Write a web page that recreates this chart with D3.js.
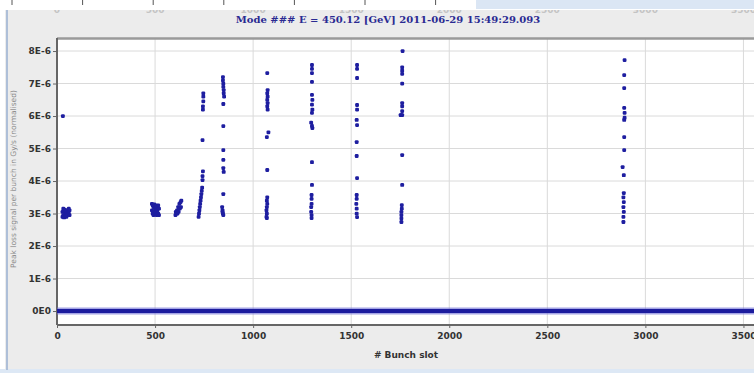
<!DOCTYPE html>
<html>
<head>
<meta charset="utf-8">
<script src="https://cdn.jsdelivr.net/npm/d3@7"></script>
<style>
  body { margin: 0; background: #fff; }
  svg { display: block; }
</style>
</head>
<body>
<div id="chart"></div>
<script>
// bunch slot / signal (in units of 1E-6) for each filled train
var train1 = [[30,6.0],[28,3.05],[28,2.9],[32,3.15],[32,2.95],[36,3.1],[36,2.88],[40,3.0],[40,3.12],[44,2.92],[44,3.08],[48,3.02],[48,2.9],[52,3.1],[52,2.95],[56,3.05],[60,3.0],[60,3.15],[64,2.95],[64,3.1]];
var train2 = [[484,3.3],[484,3.1],[488,3.25],[488,3.0],[492,3.2],[492,2.95],[496,3.28],[496,3.05],[500,3.15],[500,2.98],[504,3.25],[504,3.05],[508,3.2],[508,2.95],[512,3.1],[516,3.25],[516,3.0],[520,3.15],[520,2.95]];
var train3 = [[604,2.95],[606,3.05],[608,3.0],[612,3.1],[614,3.0],[618,3.2],[620,3.05],[624,3.3],[626,3.15],[630,3.35],[632,3.2],[634,3.4]];
var train4 = [[722,2.9],[724,3.0],[726,3.1],[728,3.2],[730,3.3],[732,3.4],[734,3.5],[736,3.6],[738,3.7],[740,3.8],[742,4.03],[742,4.15],[744,4.3],[742,5.26],[744,6.2],[744,6.3],[746,6.45],[746,6.6],[746,6.7]];
var train5 = [[846,7.2],[846,7.1],[848,7.0],[848,6.9],[850,6.8],[850,6.7],[852,6.6],[848,6.37],[848,5.69],[848,4.95],[848,4.65],[848,4.4],[850,4.28],[848,3.6],[842,3.2],[844,3.1],[846,3.0],[848,2.95],[844,3.05]];
var train6 = [[1072,7.32],[1074,6.8],[1072,6.7],[1074,6.6],[1072,6.5],[1074,6.4],[1072,6.3],[1074,6.2],[1070,5.35],[1078,5.5],[1072,4.34],[1072,3.5],[1070,3.4],[1072,3.3],[1070,3.2],[1068,3.1],[1070,3.0],[1068,2.9],[1070,2.86]];
var train7 = [[1300,7.57],[1300,7.45],[1300,7.32],[1300,7.05],[1300,6.65],[1302,6.5],[1300,6.35],[1302,6.2],[1300,6.1],[1296,5.8],[1300,5.7],[1302,5.63],[1300,4.58],[1300,3.88],[1298,3.57],[1298,3.45],[1298,3.3],[1296,3.2],[1296,3.05],[1298,2.95],[1298,2.86]];
var train8 = [[1530,7.57],[1530,7.45],[1530,7.17],[1530,6.34],[1530,6.2],[1528,5.88],[1530,5.72],[1528,5.2],[1528,4.77],[1530,4.09],[1528,3.57],[1528,3.45],[1526,3.3],[1528,3.15],[1528,3.0],[1530,2.89]];
var train9 = [[1762,8.0],[1760,7.5],[1760,7.4],[1760,7.3],[1760,7.0],[1760,6.4],[1760,6.3],[1760,6.15],[1752,6.03],[1756,6.03],[1760,6.03],[1760,4.8],[1760,3.88],[1758,3.26],[1758,3.15],[1756,3.05],[1756,2.95],[1756,2.85],[1756,2.74]];
var train10 = [[2894,7.72],[2892,7.26],[2892,6.86],[2892,6.25],[2894,6.1],[2894,5.95],[2892,5.88],[2892,5.35],[2892,4.95],[2884,4.43],[2890,4.18],[2890,3.63],[2888,3.5],[2890,3.35],[2888,3.2],[2890,3.05],[2888,2.9],[2888,2.74]];
var trains = [train1, train2, train3, train4, train5, train6, train7, train8, train9, train10];

// every empty slot sits on zero, from first to last bunch slot
var zeroSlots = [0, 3564];

var xTicks = [0, 500, 1000, 1500, 2000, 2500, 3000, 3500];
var yTicks = [0, 1, 2, 3, 4, 5, 6, 7, 8];
var titleText = "Mode ###  E = 450.12 [GeV] 2011-06-29 15:49:29.093";
var xLabel = "# Bunch slot";
var yLabel = "Peak loss signal per bunch in Gy/s (normalised)";

var width = 754, height = 373;
var plotLeft = 57, plotRight = 756, plotTop = 39, plotBottom = 325;

var svg = d3.select("#chart").append("svg")
    .attr("width", width)
    .attr("height", height);

var x = d3.scaleLinear().domain([0, 3564]).range([plotLeft, plotRight]);
var y = d3.scaleLinear().domain([-0.43, 8.37]).range([plotBottom, plotTop]);

// top strip left over from the chart above
svg.append("rect").attr("x", 476).attr("y", 0).attr("width", 278).attr("height", 9)
    .attr("fill", "#dbe6f4");
var strip = svg.append("g");
for (var i = 0; i < 7; i++) {
  strip.append("line")
    .attr("x1", 12 + i * 70.6).attr("x2", 12 + i * 70.6)
    .attr("y1", 0).attr("y2", 5)
    .attr("stroke", "#555").attr("stroke-width", 1);
}

// panel
svg.append("rect").attr("x", 5).attr("y", 10).attr("width", 760).attr("height", 360)
    .attr("fill", "#ececec");
svg.append("rect").attr("x", 0).attr("y", 369).attr("width", 754).attr("height", 4)
    .attr("fill", "#dde8f5");
svg.append("line").attr("x1", 7).attr("x2", 7).attr("y1", 10).attr("y2", 370)
    .attr("stroke", "#aebfd8").attr("stroke-width", 2);

// clipped tick labels peeking in at the top
svg.append("clipPath").attr("id", "topclip")
  .append("rect").attr("x", 5).attr("y", 10).attr("width", 760).attr("height", 4);
svg.append("g").attr("clip-path", "url(#topclip)")
  .selectAll("text").data(xTicks).enter().append("text")
    .attr("x", function(d) { return x(d); })
    .attr("y", 13)
    .attr("text-anchor", "middle")
    .attr("font-family", "DejaVu Sans")
    .attr("font-size", 9).attr("font-weight", "bold")
    .attr("fill", "#c4c4c4")
    .text(function(d) { return d; });

// title
svg.append("text")
    .attr("x", 388).attr("y", 23)
    .attr("text-anchor", "middle")
    .attr("font-family", "DejaVu Serif")
    .attr("font-size", 10).attr("font-weight", "bold")
    .attr("fill", "#2a2a92")
    .text(titleText);

// plot area
svg.append("rect").attr("x", plotLeft).attr("y", plotTop).attr("width", plotRight - plotLeft + 10).attr("height", plotBottom - plotTop)
    .attr("fill", "#fff");

// grid
svg.append("g").selectAll("line").data(yTicks).enter().append("line")
    .attr("x1", plotLeft).attr("x2", width)
    .attr("y1", function(d) { return y(d); }).attr("y2", function(d) { return y(d); })
    .attr("stroke", "#dadada").attr("stroke-width", 1);
svg.append("g").selectAll("line").data(xTicks).enter().append("line")
    .attr("x1", function(d) { return x(d); }).attr("x2", function(d) { return x(d); })
    .attr("y1", plotTop).attr("y2", plotBottom)
    .attr("stroke", "#dadada").attr("stroke-width", 1);

// frame
svg.append("line").attr("x1", plotLeft).attr("x2", width).attr("y1", plotTop - 0.5).attr("y2", plotTop - 0.5)
    .attr("stroke", "#9a9a9a").attr("stroke-width", 2.5);

// axes
var yAxis = d3.axisLeft(y).tickValues(yTicks).tickSize(4).tickPadding(2)
    .tickFormat(function(d) { return d === 0 ? "0E0" : d + "E-6"; });
var gy = svg.append("g").attr("transform", "translate(" + plotLeft + ",0)").call(yAxis);
var xAxis = d3.axisBottom(x).tickValues(xTicks).tickSize(3).tickPadding(5)
    .tickFormat(d3.format("d"));
var gx = svg.append("g").attr("transform", "translate(0," + plotBottom + ")").call(xAxis);

[gx, gy].forEach(function(g) {
  g.select(".domain").attr("stroke", "#666").attr("stroke-width", 2);
  g.selectAll(".tick line").attr("stroke", "#666");
  g.selectAll("text")
    .attr("font-family", "DejaVu Sans")
    .attr("font-size", 9).attr("font-weight", "bold")
    .attr("fill", "#333");
});
gy.select(".domain").attr("d", "M0," + (plotTop - 1) + "V" + plotBottom);
gx.select(".domain").attr("d", "M" + plotLeft + ",0H" + width);

// zero band
svg.append("line")
    .attr("x1", x(zeroSlots[0])).attr("x2", x(zeroSlots[1]))
    .attr("y1", y(0)).attr("y2", y(0))
    .attr("stroke", "#6a6ad4").attr("stroke-width", 7).attr("opacity", 0.6);
svg.append("line")
    .attr("x1", x(zeroSlots[0])).attr("x2", x(zeroSlots[1]))
    .attr("y1", y(0)).attr("y2", y(0))
    .attr("stroke", "#1c1c9e").attr("stroke-width", 4);

// points
var pts = svg.append("g");
trains.forEach(function(t) {
  pts.selectAll(null).data(t).enter().append("rect")
    .attr("x", function(d) { return x(d[0]) - 1.9; })
    .attr("y", function(d) { return y(d[1]) - 1.9; })
    .attr("width", 3.8).attr("height", 3.8)
    .attr("rx", 1.2)
    .attr("fill", "#1e1ea0");
});

// axis titles
svg.append("text")
    .attr("x", 406).attr("y", 358)
    .attr("text-anchor", "middle")
    .attr("font-family", "DejaVu Sans")
    .attr("font-size", 9).attr("font-weight", "bold")
    .attr("fill", "#333")
    .text(xLabel);
svg.append("text")
    .attr("transform", "translate(16,179) rotate(-90)")
    .attr("text-anchor", "middle")
    .attr("font-family", "DejaVu Sans")
    .attr("font-size", 7.5)
    .attr("fill", "#8a8a8a")
    .text(yLabel);
</script>
</body>
</html>
